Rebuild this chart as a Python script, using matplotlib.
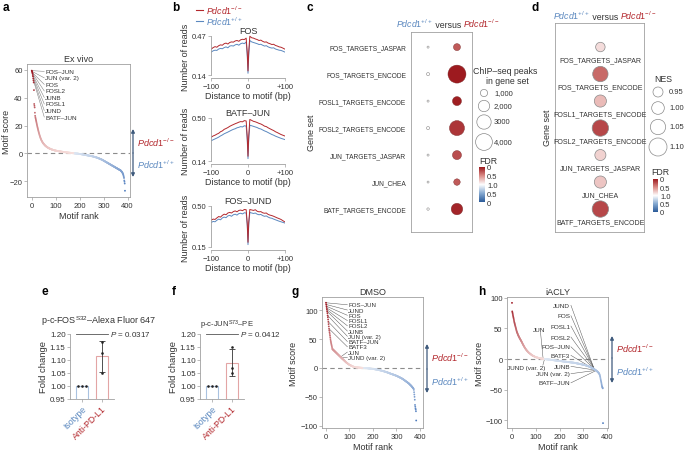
import numpy as np
import matplotlib
matplotlib.use('Agg')
import matplotlib.pyplot as plt
from matplotlib.colors import LinearSegmentedColormap
from matplotlib.patches import FancyArrowPatch

# ======================= DATA =======================
# panel a : Ex vivo motif scores, ordered by rank
a_scores = [
    59.5, 59.0, 58.2, 57.6, 56.4, 55.3, 53.8, 52.4, 51.0, 45.5,
    35.5, 34.2, 33.0, 29.2, 27.0, 26.0, 25.1, 24.2, 23.4, 22.6,
    21.8, 21.0, 20.2, 19.4, 18.6, 17.9, 17.2, 16.5, 15.8, 15.1,
    14.5, 13.9, 13.3, 12.7, 12.2, 11.7, 11.2, 10.7, 10.3, 9.9,
    9.5, 9.1, 8.8, 8.5, 8.2, 7.9, 7.6, 7.3, 7.1, 6.9,
    6.7, 6.5, 6.3, 6.1, 5.9, 5.7, 5.5, 5.4, 5.2, 5.1,
    4.9, 4.8, 4.7, 4.5, 4.4, 4.3, 4.2, 4.1, 4.0, 3.9,
    3.8, 3.7, 3.6, 3.5, 3.4, 3.3, 3.3, 3.2, 3.1, 3.0,
    3.0, 2.9, 2.8, 2.8, 2.7, 2.6, 2.6, 2.5, 2.5, 2.4,
    2.4, 2.3, 2.3, 2.2, 2.2, 2.1, 2.1, 2.0, 2.0, 1.9,
    1.9, 1.9, 1.8, 1.8, 1.8, 1.7, 1.7, 1.7, 1.6, 1.6, 1.6, 1.5, 1.5, 1.5, 1.4, 1.4, 1.4, 1.3, 1.3, 1.3,
    1.3, 1.2, 1.2, 1.2, 1.1, 1.1, 1.1, 1.1, 1.0, 1.0, 1.0, 1.0, 0.9, 0.9, 0.9, 0.9, 0.8, 0.8, 0.8, 0.8,
    0.7, 0.7, 0.7, 0.7, 0.7, 0.6, 0.6, 0.6, 0.6, 0.5, 0.5, 0.5, 0.5, 0.5, 0.4, 0.4, 0.4, 0.4, 0.4, 0.3,
    0.3, 0.3, 0.3, 0.3, 0.2, 0.2, 0.2, 0.2, 0.2, 0.1, 0.1, 0.1, 0.1, 0.1, 0.0, 0.0, 0.0, 0.0, 0.0, -0.1,
    -0.1, -0.1, -0.1, -0.1, -0.2, -0.2, -0.2, -0.2, -0.2, -0.3, -0.3, -0.3, -0.3, -0.3, -0.4, -0.4, -0.4, -0.4, -0.5, -0.5,
    -0.5, -0.5, -0.6, -0.6, -0.6, -0.6, -0.7, -0.7, -0.7, -0.8, -0.8, -0.8, -0.8, -0.9, -0.9, -0.9, -1.0, -1.0, -1.0, -1.1,
    -1.1, -1.1, -1.2, -1.2, -1.2, -1.3, -1.3, -1.3, -1.4, -1.4, -1.4, -1.5, -1.5, -1.5, -1.5, -1.6, -1.6, -1.6, -1.7, -1.7,
    -1.7, -1.8, -1.8, -1.8, -1.9, -1.9, -1.9, -2.0, -2.0, -2.0, -2.1, -2.1, -2.2, -2.2, -2.2, -2.3, -2.3, -2.4, -2.4, -2.5,
    -2.5, -2.6, -2.6, -2.7, -2.7, -2.8, -2.8, -2.9, -2.9, -3.0, -3.0, -3.1, -3.1, -3.2, -3.3, -3.3, -3.4, -3.5, -3.5, -3.6,
    -3.7, -3.7, -3.8, -3.9, -4.0, -4.0, -4.1, -4.2, -4.3, -4.3, -4.4, -4.5, -4.6, -4.6, -4.7, -4.8, -4.9, -5.0, -5.1, -5.2,
    -5.3, -5.4, -5.5, -5.6, -5.7, -5.8, -5.9, -6.0, -6.1, -6.2, -6.3, -6.4, -6.5, -6.6, -6.7, -6.8, -6.9, -7.0, -7.1, -7.2,
    -7.3, -7.4, -7.5, -7.6, -7.7, -7.8, -7.9, -8.0, -8.1, -8.2, -8.3, -8.4, -8.5, -8.6, -8.7, -8.8, -8.9, -9.0, -9.1, -9.2,
    -9.3, -9.4, -9.5, -9.6, -9.7, -9.8, -9.9, -10.0, -10.1, -10.2, -10.3, -10.4, -10.5, -10.6, -10.7, -10.8, -10.9, -11.0, -11.1, -11.2,
    -11.3, -11.4, -11.5, -11.6, -11.7, -11.8, -11.9, -12.0, -12.1, -12.2, -12.3, -12.4, -12.6, -12.8, -13.0, -13.2, -13.4, -13.6, -13.9, -14.2,
    -14.6, -15.0, -15.5, -16.2, -17.0, -17.8, -19.6, -20.5, -21.8, -27.0]
a_label_names = ['FOS–JUN', 'JUN (var. 2)', 'FOS', 'FOSL2', 'JUNB', 'FOSL1', 'JUND', 'BATF–JUN']
a_label_ranks = [0, 1, 2, 3, 4, 5, 6, 7]

# panel g : DMSO motif scores
g_scores = [
    113, 110, 107, 104, 101, 98, 95, 91, 88, 84, 80,
    76, 72, 68, 65, 62, 59, 56, 53, 50, 47,
    45, 43, 41, 39, 37, 35,
    33.0, 32.6, 32.2, 31.8, 31.4, 31.0, 30.6, 30.2, 29.8, 29.4,
    29.0, 28.6, 28.2, 27.8, 27.4, 27.0, 26.6, 26.2, 25.8, 25.4,
    25.0, 24.6, 24.2, 23.8, 23.4, 23.0, 22.6, 22.2, 21.8, 21.4,
    21.0, 20.6, 20.2, 19.8, 19.4, 19.0, 18.6, 18.2, 17.8, 17.4,
    17.0, 16.6, 16.2, 15.8, 15.4, 15.1, 14.8,
    14.4, 14.0, 13.6, 13.2, 12.8, 12.4, 12.0, 11.6, 11.2, 10.8,
    10.4, 10.0, 9.6, 9.3, 9.0, 8.7, 8.4, 8.1, 7.8, 7.5,
    7.2, 6.9, 6.6, 6.3, 6.0, 5.7, 5.5, 5.3, 5.1, 4.9,
    4.7, 4.5, 4.3, 4.1, 3.9, 3.7, 3.5, 3.3, 3.1, 2.9,
    2.7, 2.5, 2.3, 2.2, 2.1, 2.0, 1.9, 1.8, 1.7, 1.6,
    1.5, 1.4, 1.3, 1.2, 1.1,
    1.0, 1.0, 0.9, 0.9, 0.9, 0.8, 0.8, 0.8, 0.8, 0.7,
    0.7, 0.7, 0.6, 0.6, 0.6, 0.5, 0.5, 0.5, 0.4, 0.4,
    0.4, 0.3, 0.3, 0.3, 0.2, 0.2, 0.2, 0.1, 0.1, 0.1,
    0.0, 0.0, 0.0, -0.1, -0.1, -0.1, -0.2, -0.2, -0.2, -0.3,
    -0.3, -0.3, -0.4, -0.4, -0.4, -0.5, -0.5, -0.5, -0.6, -0.6,
    -0.6, -0.7, -0.7, -0.8, -0.8, -0.9, -0.9, -1.0, -1.0, -1.1,
    -1.1, -1.2, -1.2, -1.3, -1.3, -1.4, -1.4, -1.5, -1.5, -1.6,
    -1.6, -1.7, -1.7, -1.8, -1.9, -1.9, -2.0, -2.1, -2.1, -2.2,
    -2.3, -2.3, -2.4, -2.5, -2.5, -2.6, -2.7, -2.8, -2.8, -2.9,
    -3.0, -3.1, -3.2, -3.2, -3.3, -3.4, -3.5, -3.6, -3.7, -3.8,
    -3.9, -4.0, -4.1, -4.2, -4.3, -4.4, -4.5, -4.6, -4.7, -4.8,
    -4.9, -5.0, -5.1, -5.2, -5.4, -5.5, -5.6, -5.7, -5.8, -6.0,
    -6.1, -6.2, -6.3, -6.5, -6.6, -6.7, -6.9, -7.0, -7.1, -7.3,
    -7.4, -7.5, -7.7, -7.8, -8.0, -8.1, -8.3, -8.4, -8.6, -8.7,
    -8.9, -9.0, -9.2, -9.3, -9.5, -9.7, -9.8, -10.0, -10.2, -10.3,
    -10.4, -10.5, -10.7, -10.8, -11.0, -11.1, -11.3, -11.4, -11.6, -11.7,
    -11.9, -12.0, -12.2, -12.3, -12.5, -12.6, -12.8, -12.9, -13.1, -13.2,
    -13.4, -13.6, -13.7, -13.9, -14.1, -14.3, -14.5, -14.7, -14.9, -15.1,
    -15.3, -15.5, -15.7, -15.9, -16.1, -16.3, -16.5, -16.7, -16.9, -17.1, -17.3, -17.5,
    -17.7, -18.0, -18.2, -18.5, -18.7, -19.0, -19.2, -19.5, -19.7, -20.0,
    -20.3, -20.6, -20.9, -21.2, -21.5, -21.8, -22.1, -22.4, -22.7, -23.0,
    -23.3, -23.6, -23.9, -24.2, -24.5, -24.8, -25.1, -25.4, -25.7, -26.0,
    -26.3, -26.6, -27.0, -27.4, -27.8, -28.2, -28.6, -29.0, -29.4, -29.8, -30.2, -30.6, -31.0,
    -31.5, -32.0, -32.5, -33.0, -33.5, -34.0, -34.5, -35.0, -35.5, -36.0,
    -38.0, -42.0, -46.0, -50.0, -55.0, -64.0, -67.0, -70.0, -72.0, -75.0, -91.0]
g_label_names = ['FOS–JUN', 'JUND', 'FOS', 'FOSL1', 'FOSL2', 'JUNB', 'JUN (var. 2)', 'BATF–JUN',
                 'BATF3', 'JUN', 'JUND (var. 2)']
g_label_ranks = [0, 1, 2, 3, 4, 5, 7, 10, 13, 62, 66]

# panel h : iACLY motif scores
h_scores = [
    92, 78, 76, 74, 72, 70, 68, 66, 64, 62,
    60, 58.5, 57, 55.5, 54, 52.5, 51, 49.5, 48, 46.5,
    45, 44, 43, 42, 41, 40, 39, 38.2, 37.4, 36.6,
    35.8, 35.0, 34.3, 33.6, 32.9, 32.2, 31.5, 30.8, 30.1, 29.4,
    28.7, 28.0, 27.2, 26.4, 25.6, 24.8, 24.0, 23.3, 22.6, 21.9,
    21.2, 20.5, 19.8, 19.1, 18.5, 17.9, 17.3, 16.7, 16.1, 15.6,
    15.1, 14.6, 14.1, 13.6, 13.1, 12.7, 12.3, 11.9, 11.5, 11.1,
    10.7, 10.3, 9.9, 9.6, 9.3, 9.0, 8.7, 8.4, 8.1, 7.8,
    7.5, 7.2, 6.9, 6.6, 6.3, 6.0, 5.8, 5.6, 5.4, 5.2,
    5.0, 4.8, 4.6, 4.4, 4.2, 4.0, 3.8, 3.6, 3.4, 3.2,
    3.0, 2.9, 2.8, 2.7, 2.6, 2.5, 2.4, 2.3, 2.2, 2.1, 2.0, 1.9, 1.8, 1.7, 1.6, 1.5, 1.4, 1.3, 1.2, 1.1,
    1.0, 0.9, 0.9, 0.8, 0.8, 0.7, 0.7, 0.6, 0.6, 0.5, 0.5, 0.4, 0.4, 0.3, 0.3, 0.2, 0.2, 0.1, 0.0, -0.1,
    -0.2, -0.2, -0.3, -0.3, -0.4, -0.4, -0.5, -0.5, -0.6, -0.6, -0.7, -0.7, -0.8, -0.8, -0.9, -0.9, -1.0, -1.0, -1.1, -1.1,
    -1.2, -1.2, -1.3, -1.3, -1.4, -1.4, -1.5, -1.5, -1.6, -1.6, -1.7, -1.7, -1.8, -1.8, -1.9, -1.9, -2.0, -2.0, -2.1, -2.1,
    -2.2, -2.2, -2.3, -2.3, -2.4, -2.4, -2.5, -2.5, -2.6, -2.6, -2.7, -2.7, -2.8, -2.8, -2.9, -2.9, -3.0, -3.0, -3.0, -3.0,
    -3.1, -3.2, -3.2, -3.3, -3.3, -3.4, -3.4, -3.5, -3.5, -3.6, -3.6, -3.7, -3.7, -3.8, -3.8, -3.9, -3.9, -4.0, -4.0, -4.0,
    -4.1, -4.2, -4.2, -4.3, -4.3, -4.4, -4.4, -4.5, -4.5, -4.6, -4.6, -4.7, -4.7, -4.8, -4.8, -4.9, -4.9, -5.0, -5.0, -5.0,
    -5.1, -5.2, -5.2, -5.3, -5.3, -5.4, -5.4, -5.5, -5.5, -5.6, -5.6, -5.7, -5.7, -5.8, -5.8, -5.9, -5.9, -6.0, -6.0, -6.0,
    -6.1, -6.2, -6.3, -6.3, -6.4, -6.5, -6.6, -6.6, -6.7, -6.8, -6.9, -6.9, -7.0, -7.1, -7.2, -7.2, -7.3, -7.4, -7.5, -7.5,
    -7.6, -7.7, -7.8, -7.9, -8.0, -8.0, -8.1, -8.2, -8.3, -8.4, -8.5, -8.5, -8.6, -8.7, -8.8, -8.9, -9.0, -9.0, -9.1, -9.2,
    -9.3, -9.4, -9.5, -9.6, -9.7, -9.8, -9.9, -10.0, -10.1, -10.2, -10.4, -10.5, -10.6, -10.7, -10.9, -11.0, -11.1, -11.3, -11.4, -11.5,
    -11.7, -11.8, -12.0, -12.1, -12.3, -12.4, -12.6, -12.8, -12.9, -13.1, -13.3, -13.5, -13.7, -13.9, -14.1, -14.3, -14.5, -14.7, -14.9, -15.1,
    -15.3, -15.5, -15.8, -16.0, -16.2, -16.5, -16.7, -17.0, -17.2, -17.5, -17.7, -18.0, -18.3, -18.6, -18.9, -19.2, -19.5, -19.8, -20.1, -20.5,
    -20.8, -21.2, -21.6, -22.0, -22.5, -23.0, -23.5, -24.0, -25.0, -26.0, -27.5, -29.0, -31.0, -33.0, -35.0, -37.0, -39.0, -41.0, -43.0, -45.0,
    -46.0, -47.0, -48.0, -105.0]
h_label_names = ['JUND', 'FOS', 'FOSL1', 'FOSL2', 'FOS–JUN', 'BATF3', 'JUNB', 'JUN (var. 2)', 'BATF–JUN']
h_label_ranks = [346, 347, 348, 349, 350, 351, 352, 353, 354]
h_left_names = ['JUN', 'JUND (var. 2)']
h_left_ranks = [131, 137]

# panel b : footprint profiles (distance to motif, bp)
b_pos = [-100, -95, -90, -85, -80, -75, -70, -65, -60, -55, -50, -45, -40, -35, -30, -25, -20, -15, -10, -5,
         -2, 0, 2,
         5, 10, 15, 20, 25, 30, 35, 40, 45, 50, 55, 60, 65, 70, 75, 80, 85, 90, 95, 100]
fos_ko = [0.360, 0.372, 0.380, 0.375, 0.388, 0.395, 0.392, 0.405, 0.410, 0.402, 0.415, 0.420, 0.418, 0.428, 0.432, 0.425, 0.438, 0.442, 0.440, 0.452,
          0.330, 0.175, 0.340,
          0.468, 0.455, 0.452, 0.445, 0.440, 0.432, 0.435, 0.425, 0.418, 0.420, 0.410, 0.405, 0.398, 0.400, 0.390, 0.385, 0.378, 0.375, 0.368, 0.360]
fos_wt = [0.335, 0.345, 0.350, 0.348, 0.360, 0.365, 0.362, 0.372, 0.378, 0.370, 0.385, 0.388, 0.385, 0.395, 0.400, 0.392, 0.405, 0.410, 0.405, 0.420,
          0.300, 0.155, 0.310,
          0.432, 0.420, 0.415, 0.410, 0.405, 0.398, 0.400, 0.392, 0.385, 0.388, 0.378, 0.372, 0.368, 0.370, 0.360, 0.355, 0.350, 0.348, 0.342, 0.335]
batf_ko = [0.340, 0.350, 0.356, 0.365, 0.372, 0.385, 0.392, 0.405, 0.412, 0.420, 0.430, 0.438, 0.445, 0.452, 0.458, 0.465, 0.470, 0.468, 0.478, 0.475,
           0.340, 0.180, 0.350,
           0.488, 0.480, 0.472, 0.468, 0.462, 0.455, 0.450, 0.442, 0.432, 0.428, 0.418, 0.410, 0.402, 0.395, 0.385, 0.378, 0.370, 0.362, 0.356, 0.350]
batf_wt = [0.310, 0.318, 0.325, 0.332, 0.340, 0.350, 0.358, 0.368, 0.375, 0.382, 0.390, 0.398, 0.405, 0.410, 0.418, 0.422, 0.428, 0.425, 0.435, 0.432,
           0.310, 0.160, 0.320,
           0.440, 0.435, 0.430, 0.425, 0.420, 0.412, 0.408, 0.400, 0.392, 0.386, 0.378, 0.370, 0.362, 0.356, 0.348, 0.342, 0.336, 0.330, 0.325, 0.320]
jund_ko = [0.380, 0.388, 0.385, 0.398, 0.410, 0.405, 0.420, 0.430, 0.425, 0.440, 0.445, 0.440, 0.452, 0.458, 0.450, 0.462, 0.465, 0.460, 0.470, 0.468,
           0.350, 0.190, 0.360,
           0.470, 0.466, 0.462, 0.468, 0.455, 0.450, 0.452, 0.442, 0.438, 0.440, 0.428, 0.422, 0.418, 0.412, 0.405, 0.398, 0.392, 0.385, 0.375, 0.365]
jund_wt = [0.360, 0.368, 0.365, 0.378, 0.388, 0.382, 0.398, 0.405, 0.400, 0.415, 0.420, 0.412, 0.425, 0.430, 0.422, 0.435, 0.438, 0.432, 0.442, 0.440,
           0.330, 0.170, 0.340,
           0.445, 0.440, 0.436, 0.440, 0.430, 0.425, 0.428, 0.418, 0.412, 0.415, 0.405, 0.398, 0.395, 0.388, 0.382, 0.376, 0.370, 0.365, 0.360, 0.355]
b_titles = ['FOS', 'BATF–JUN', 'FOS–JUND']
b_yticks = [(0.14, 0.47), (0.14, 0.50), (0.15, 0.50)]

# panel c / d : gene sets
gene_sets = ['FOS_TARGETS_JASPAR', 'FOS_TARGETS_ENCODE', 'FOSL1_TARGETS_ENCODE', 'FOSL2_TARGETS_ENCODE',
             'JUN_TARGETS_JASPAR', 'JUN_CHEA', 'BATF_TARGETS_ENCODE']
c_peaks_wt = [380, 450, 380, 450, 380, 360, 400]
c_peaks_ko = [960, 4530, 1380, 3250, 1380, 870, 2040]
c_fdr_wt = [1.0, 1.0, 1.0, 1.0, 1.0, 1.0, 1.0]
c_fdr_ko = [0.28, 0.0, 0.02, 0.12, 0.22, 0.28, 0.05]
c_size_keys = [1000, 2000, 3000, 4000]
c_size_key_labels = ['1,000', '2,000', '3000', '4,000']
d_nes = [0.94, 1.05, 0.99, 1.07, 0.97, 0.99, 1.07]
d_fdr = [0.85, 0.35, 0.70, 0.20, 0.80, 0.75, 0.20]
d_nes_keys = [0.95, 1.00, 1.05, 1.10]
d_nes_key_labels = ['0.95', '1.00', '1.05', '1.10']
fdr_ticks = [1, 0.5, 0, -0.5, -1]
fdr_tick_labels = ['0', '0.5', '1.0', '0.5', '0']

# panel e / f : fold change
e_iso = [1.0, 1.0, 1.0]
e_anti = [1.168, 1.127, 1.050]
f_iso = [1.0, 1.0, 1.0]
f_anti = [1.150, 1.070, 1.050]
ef_groups = ['Isotype', 'Anti-PD-L1']
e_p = '0.0317'
f_p = '0.0412'

# ======================= STYLE =======================
W, H = 685, 456
RED = '#b3282d'
BLUE = '#5b88bf'
TXT = '#333333'
FRAME = '#a0a0a0'
ARROW = '#3e5a7c'

plt.rcParams['font.family'] = ['Liberation Sans', 'DejaVu Sans']
plt.rcParams['mathtext.fontset'] = 'custom'
plt.rcParams['mathtext.rm'] = 'Liberation Sans'
plt.rcParams['mathtext.it'] = 'Liberation Sans:italic'
plt.rcParams['mathtext.bf'] = 'Liberation Sans:bold'
plt.rcParams['axes.linewidth'] = 0.6
plt.rcParams['axes.edgecolor'] = FRAME
plt.rcParams['xtick.color'] = FRAME
plt.rcParams['ytick.color'] = FRAME
plt.rcParams['xtick.labelcolor'] = TXT
plt.rcParams['ytick.labelcolor'] = TXT
plt.rcParams['xtick.major.size'] = 2
plt.rcParams['ytick.major.size'] = 2
plt.rcParams['xtick.major.width'] = 0.5
plt.rcParams['ytick.major.width'] = 0.5
plt.rcParams['xtick.major.pad'] = 1.5
plt.rcParams['ytick.major.pad'] = 1.2
plt.rcParams['xtick.labelsize'] = 5.5
plt.rcParams['ytick.labelsize'] = 5.5
plt.rcParams['axes.labelsize'] = 6.5
plt.rcParams['axes.labelcolor'] = TXT
plt.rcParams['axes.labelpad'] = 1.5
plt.rcParams['text.color'] = TXT

KO = r'$\mathit{Pdcd1}^{-/-}$'
WT = r'$\mathit{Pdcd1}^{+/+}$'

fig = plt.figure(figsize=(W / 100, H / 100), dpi=100)


def box(x0, y0, x1, y1):
    return fig.add_axes([x0 / W, 1 - y1 / H, (x1 - x0) / W, (y1 - y0) / H])


fdr_cmap = LinearSegmentedColormap.from_list(
    'fdr', ['#2b5b99', '#86aad2', '#ffffff', '#dc8e89', '#9d1a1f'])


def fdr_color(fdr, up=True):
    v = (1 - fdr) if up else -(1 - fdr)
    return fdr_cmap((v + 1) / 2)


def point_colors(v):
    v = np.asarray(v, float)
    pmax, nmin = v.max(), v.min()
    red_d = np.array([0.62, 0.09, 0.13]); red_l = np.array([0.97, 0.88, 0.87])
    blue_d = np.array([0.30, 0.48, 0.74]); blue_l = np.array([0.89, 0.92, 0.96])
    out = []
    for s in v:
        if s >= 0:
            t = (s / pmax) ** 0.75
            out.append(red_l + (red_d - red_l) * t)
        else:
            t = (s / nmin) ** 0.6
            out.append(blue_l + (blue_d - blue_l) * t)
    return np.array(out)


def motif_panel(ax, scores, xlim, ylim, yticks, title, ylab_x):
    r = np.arange(len(scores))
    ax.axhline(0, color='#8c8c8c', lw=0.8, ls=(0, (4, 3)), zorder=1)
    ax.scatter(r, scores, s=1.7, c=point_colors(scores), linewidths=0, zorder=3)
    ax.set_xlim(*xlim)
    ax.set_ylim(*ylim)
    ax.set_xticks([0, 100, 200, 300, 400])
    ax.set_yticks(yticks)
    ax.set_yticklabels([('−%d' % -t) if t < 0 else '%d' % t for t in yticks])
    ax.set_xlabel('Motif rank')
    ax.set_ylabel('Motif score')
    ax.yaxis.set_label_coords(ylab_x, 0.5)
    ax.set_title(title, fontsize=6.5, pad=2.5, color=TXT)


def label_lines(ax, scores, names, ranks, lx, ly, ha='left', tx=None, fs=4.6, lc='#777777'):
    for n, rk, yy in zip(names, ranks, ly):
        ax.plot([lx, rk], [yy, scores[rk]], color=lc, lw=0.35, zorder=2)
        ax.text(tx if tx is not None else lx, yy, n, fontsize=fs, ha=ha, va='center', color=TXT, zorder=4)


# ======================= PANEL a =======================
axa = box(27, 65, 130, 198)
motif_panel(axa, a_scores, (-20, 410), (-31.5, 64.3), [-20, 0, 20, 40, 60], 'Ex vivo', -0.155)
a_ly = [59.0, 54.3, 49.6, 44.9, 40.2, 35.5, 30.8, 26.1]
label_lines(axa, a_scores, a_label_names, a_label_ranks, 52, a_ly, tx=56)

# ======================= PANEL g =======================
axg = box(322, 298, 423, 429)
motif_panel(axg, g_scores, (-17, 413), (-104, 123), [-100, -50, 0, 50, 100], 'DMSO', -0.233)
g_ly = [109.5, 100.4, 91.3, 82.2, 73.1, 64.0, 54.9, 45.8, 36.7, 27.6, 18.5]
label_lines(axg, g_scores, g_label_names, g_label_ranks, 91, g_ly, tx=94, fs=4.4, lc='#555555')

# ======================= PANEL h =======================
axh = box(507, 298, 608, 429)
motif_panel(axh, h_scores, (-21, 404), (-113, 101.6), [-100, -50, 0, 50, 100], 'iACLY', -0.223)
h_ly = [88, 71, 54, 36, 20, 6, -12, -24, -39]
label_lines(axh, h_scores, h_label_names, h_label_ranks, 248, h_ly, ha='right', tx=245, lc='#555555')
axh.plot([120, h_left_ranks[0]], [44, h_scores[h_left_ranks[0]]], color='#555555', lw=0.35, zorder=2)
axh.text(114, 49, h_left_names[0], fontsize=4.6, ha='center', va='center', zorder=4)
axh.plot([130, h_left_ranks[1]], [-10, h_scores[h_left_ranks[1]]], color='#555555', lw=0.35, zorder=2)
axh.text(139, -14, h_left_names[1], fontsize=4.6, ha='right', va='center', zorder=4)

# ======================= PANEL b =======================
b_boxes = [(211, 36.4, 285, 79), (211, 118.4, 285, 165), (211, 206.4, 285, 251)]
b_data = [(fos_ko, fos_wt), (batf_ko, batf_wt), (jund_ko, jund_wt)]
b_ylims = [(0.115, 0.475), (0.115, 0.505), (0.124, 0.505)]
for bx, (ko, wt), ttl, yt, yl in zip(b_boxes, b_data, b_titles, b_yticks, b_ylims):
    ax = box(*bx)
    ax.plot(b_pos, wt, color=BLUE, lw=0.7)
    ax.plot(b_pos, ko, color=RED, lw=0.7)
    ax.set_xlim(-101, 101)
    ax.set_ylim(*yl)
    for s in ('top', 'right'):
        ax.spines[s].set_visible(False)
    ax.spines['left'].set_bounds(yt[0], yt[1])
    ax.spines['bottom'].set_bounds(-100, 100)
    ax.set_yticks(list(yt))
    ax.set_yticklabels(['%.2f' % v for v in yt])
    ax.set_xticks([-100, 0, 100])
    ax.set_xticklabels(['−100', '0', '+100'])
    ax.set_title(ttl, fontsize=6.5, pad=1.5, color=TXT)
    ax.set_ylabel('Number of reads', labelpad=1)
    ax.set_xlabel('Distance to motif (bp)', labelpad=1)

# ======================= PANEL c =======================
def peak_size(n):
    d_px = np.sqrt(max(77.0 * n / 1000.0 - 25.0, 4.0))
    return (d_px * 0.72) ** 2


axc = box(411, 33, 472, 233)
rows = np.arange(len(gene_sets))
axc.scatter(np.zeros(len(rows)), rows, s=[peak_size(n) for n in c_peaks_wt],
            c=[fdr_color(f) for f in c_fdr_wt], edgecolors='#8a8a8a', linewidths=0.4, zorder=3)
axc.scatter(np.ones(len(rows)), rows, s=[peak_size(n) for n in c_peaks_ko],
            c=[fdr_color(f) for f in c_fdr_ko], edgecolors='#7a2a2a', linewidths=0.3, zorder=3)
axc.set_xlim(-0.59, 1.52)
axc.set_ylim(6.85, -0.56)
axc.set_xticks([])
axc.set_yticks(rows)
axc.set_yticklabels(gene_sets, fontsize=4.8)
axc.tick_params(axis='y', length=0, pad=3.5)
axc.set_ylabel('Gene set')
axc.yaxis.set_label_coords(-1.56, 0.5)

# ======================= PANEL d =======================
def nes_size(v):
    d_px = 10 + (v - 0.95) * 53.3
    return (d_px * 0.72) ** 2


axd = box(555, 24, 644, 233)
axd.scatter(np.zeros(len(rows)), rows, s=[nes_size(v) for v in d_nes],
            c=[fdr_color(f) for f in d_fdr], edgecolors='#8a8a8a', linewidths=0.5, zorder=3)
for r, nm in zip(rows, gene_sets):
    axd.text(0, r + 0.47, nm, fontsize=5, ha='center', va='center', color=TXT)
axd.set_xlim(-1.04, 1.0)
axd.set_ylim(6.85, -0.89)
axd.set_xticks([])
axd.set_yticks([])

# ======================= PANEL e / f =======================
def fold_panel(x_spine, iso, anti, pval):
    ax = box(x_spine, 335, x_spine + 44, 400)
    means = [np.mean(iso), np.mean(anti)]
    sds = [np.std(iso, ddof=1), np.std(anti, ddof=1)]
    ax.bar([0, 1], means, width=0.6, color='white', edgecolor=['#a9c2e0', '#e3a5a5'], linewidth=0.8, zorder=1)
    ax.errorbar([1], [means[1]], yerr=[sds[1]], fmt='none', ecolor='#333333', elinewidth=0.6,
                capsize=2.2, capthick=0.6, zorder=2)
    ax.scatter([-0.2, 0, 0.2], iso, s=3.5, color='#222222', zorder=3, linewidths=0)
    ax.scatter([1, 1, 1], anti, s=3.5, color='#222222', zorder=3, linewidths=0)
    ax.set_xlim(-0.58, 1.62)
    ax.set_ylim(0.95, 1.20)
    ax.set_yticks([0.95, 1.00, 1.05, 1.10, 1.15, 1.20])
    ax.set_yticklabels(['%.2f' % v for v in [0.95, 1.00, 1.05, 1.10, 1.15, 1.20]], fontsize=5.8)
    for s in ('top', 'right'):
        ax.spines[s].set_visible(False)
    ax.set_xticks([0, 1])
    ax.set_xticklabels(ef_groups, rotation=45, ha='right', rotation_mode='anchor', fontsize=6.3)
    ax.get_xticklabels()[0].set_color(BLUE)
    ax.get_xticklabels()[1].set_color(RED)
    ax.set_ylabel('Fold change', fontsize=6.8)
    ax.plot([-0.3, 1.3], [1.20, 1.20], color='#555555', lw=0.6, clip_on=False)
    ax.text(1.4, 1.20, r'$\mathit{P}$ = ' + pval, fontsize=5.8, va='center', ha='left')
    return ax


axe = fold_panel(70, e_iso, e_anti, e_p)
axf = fold_panel(200, f_iso, f_anti, f_p)

# ======================= OVERLAY (text, legends, arrows) =======================
ov = fig.add_axes([0, 0, 1, 1], zorder=10)
ov.set_xlim(0, W)
ov.set_ylim(H, 0)
ov.axis('off')
ov.patch.set_alpha(0)

for lab, (x, y) in zip('abcdefgh', [(3, 8), (172, 8), (307, 8), (532, 8), (42, 292), (172, 292), (292, 292), (478, 292)]):
    ov.text(x, y, lab, fontsize=8.5, fontweight='bold', color='black', va='center', ha='left')

# b legend
ov.plot([196, 203], [10.5, 10.5], color=RED, lw=0.8)
ov.text(206, 10.5, KO, fontsize=6.3, color=RED, va='center')
ov.plot([196, 203], [21.5, 21.5], color=BLUE, lw=0.8)
ov.text(206, 21.5, WT, fontsize=6.3, color=BLUE, va='center')


def arrows(x, ytop, ymid, ybot, ly_top, ly_bot, lx):
    for y in (ytop, ybot):
        ov.add_patch(FancyArrowPatch((x, ymid), (x, y), arrowstyle='-|>', mutation_scale=5,
                                     color=ARROW, lw=0.9, shrinkA=0, shrinkB=0))
    ov.text(lx, ly_top, KO, fontsize=6.5, color=RED, va='center', ha='left')
    ov.text(lx, ly_bot, WT, fontsize=6.5, color=BLUE, va='center', ha='left')


arrows(133, 130, 154, 178, 143, 165, 137)
arrows(427, 345, 370, 394, 358, 382, 431)
arrows(612, 337, 359, 384, 349, 372, 616)


def header(x, y, fs=6.3):
    t1 = ov.text(x, y, WT, fontsize=fs, color=BLUE, va='baseline', ha='left')
    t2 = ov.annotate(' versus ', xy=(1, 0), xycoords=t1, fontsize=fs, color=TXT, va='bottom', ha='left')
    ov.annotate(KO, xy=(1, 0), xycoords=t2, fontsize=fs, color=RED, va='bottom', ha='left')


header(396, 28)
header(553, 20)

# c size legend
ov.text(505, 71, 'ChIP–seq peaks', fontsize=6.3, ha='center', va='center')
ov.text(507, 81, 'in gene set', fontsize=6.3, ha='center', va='center')
ov.scatter([484] * 4, [94, 107, 123, 143], s=[peak_size(n) for n in c_size_keys],
           facecolors='white', edgecolors='#8a8a8a', linewidths=0.5)
for yy, lab in zip([94, 107, 123, 143], c_size_key_labels):
    ov.text(494, yy, lab, fontsize=5.5, va='center', ha='left')

# d NES legend
ov.text(663, 80, 'NES', fontsize=6.3, ha='center', va='center')
ov.scatter([658] * 4, [93, 109, 128, 148], s=[nes_size(v) for v in d_nes_keys],
           facecolors='white', edgecolors='#8a8a8a', linewidths=0.5)
for yy, lab in zip([93, 109, 128, 148], d_nes_key_labels):
    ov.text(669, yy, lab, fontsize=5.5, va='center', ha='left')


def fdr_bar(x0, y0, x1, y1, title_xy):
    cax = box(x0, y0, x1, y1)
    grad = np.linspace(1, -1, 200).reshape(-1, 1)
    cax.imshow(grad, aspect='auto', cmap=fdr_cmap, vmin=-1, vmax=1, extent=[0, 1, -1, 1])
    cax.set_xticks([])
    cax.yaxis.tick_right()
    cax.set_yticks(fdr_ticks)
    cax.set_yticklabels(fdr_tick_labels, fontsize=5.5)
    cax.tick_params(axis='y', length=0, pad=1.5)
    for s in cax.spines.values():
        s.set_visible(False)
    ov.text(title_xy[0], title_xy[1], 'FDR', fontsize=6.3, ha='left', va='center')


fdr_bar(479, 168, 485, 203, (479, 162))
fdr_bar(653, 180, 658, 213, (651, 173))

ov.text(548, 128, 'Gene set', fontsize=6.5, rotation=90, ha='center', va='center')

# e / f titles
ov.text(41, 321, r'p-c-FOS$^{\mathrm{S32}}$–Alexa Fluor 647', fontsize=6.5, ha='left', va='center')
ov.text(200, 325, r'p-c-JUN$^{\mathrm{S73}}$–PE', fontsize=5.5, ha='left', va='center')

fig.savefig('out.png', dpi=100)
